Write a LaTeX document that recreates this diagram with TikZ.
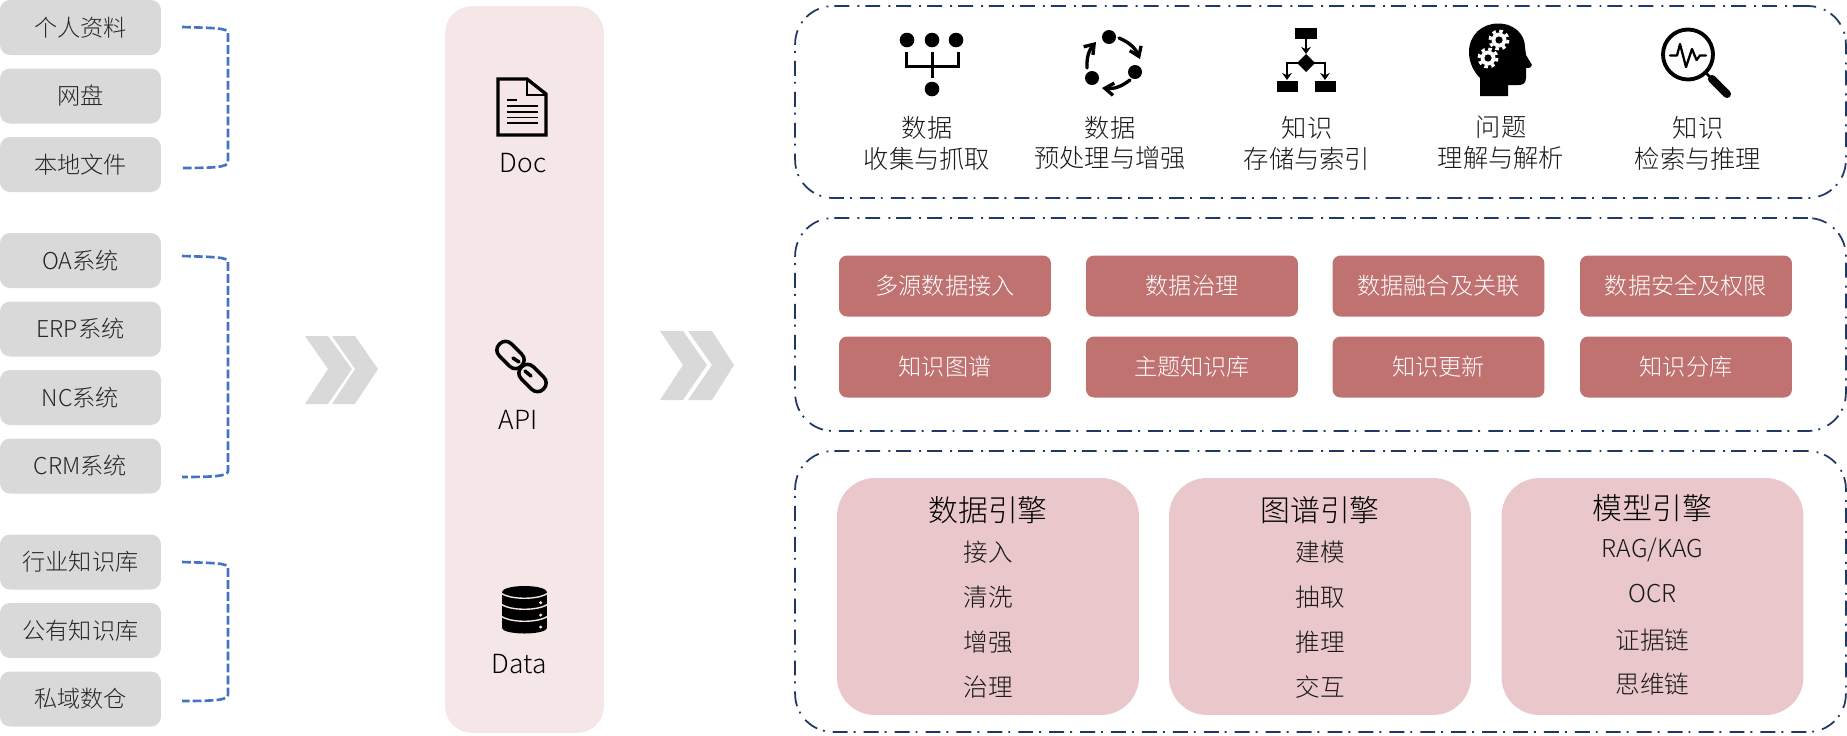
\documentclass[tikz,border=0pt]{standalone}
\usepackage{fontspec}
\usetikzlibrary{arrows.meta}
\setmainfont{Noto Sans CJK SC}[UprightFont=* Light]
\definecolor{listgray}{HTML}{D9D9D9}
\definecolor{bracketblue}{HTML}{4472C4}
\definecolor{panelnavy}{HTML}{1F3864}
\definecolor{middlepink}{HTML}{F5E7E8}
\definecolor{buttonred}{HTML}{C07271}
\definecolor{enginepink}{HTML}{E9C7CA}
\tikzset{
  listbox/.style={fill=listgray, rounded corners=.2cm, minimum width=3.22cm, minimum height=1.1cm, inner sep=0pt, text=black!85, font=\fontsize{13.2}{15}\selectfont},
  bracket/.style={bracketblue, line width=1.5pt, dash pattern=on 5pt off 1.8pt},
  panelbox/.style={draw=panelnavy, line width=1pt, rounded corners=.76cm, dash pattern=on 8.5pt off 3.4pt on 1.1pt off 4.6pt, minimum width=21.02cm, inner sep=0pt},
  buttonbox/.style={fill=buttonred, rounded corners=.16cm, minimum width=4.24cm, minimum height=1.22cm, inner sep=0pt, text=white, font=\fontsize{13.2}{15}\selectfont},
  enginebox/.style={fill=enginepink, rounded corners=.76cm, minimum width=6.04cm, minimum height=4.74cm, inner sep=0pt},
  enginetitle/.style={inner sep=0pt, text=black, font=\fontsize{17}{19}\selectfont},
  engineitem/.style={inner sep=0pt, text=black!90, font=\fontsize{14}{16}\selectfont},
  iconlabel/.style={inner sep=0pt, align=center, text=black!90, font=\fontsize{14.4}{17.6}\selectfont},
  sourcelabel/.style={inner sep=0pt, text=black, font=\fontsize{15}{17}\selectfont},
  chevron/.style={fill=listgray},
  gearteeth/.style={white, line width=1.7pt, dash pattern=on 2pt off 2.02pt},
}
\begin{document}
\begin{tikzpicture}[x=0.02cm, y=-0.02cm]
  \useasboundingbox (0,0) rectangle (1847,735);
  % Source lists
  \node[listbox] (ziliao) at (80.5,27.5) {个人资料};
  \node[listbox] (wangpan) at (80.5,96) {网盘};
  \node[listbox] (bendi) at (80.5,164.5) {本地文件};
  \node[listbox] (oa) at (80.5,260.5) {OA系统};
  \node[listbox] (erp) at (80.5,329) {ERP系统};
  \node[listbox] (nc) at (80.5,397.5) {NC系统};
  \node[listbox] (crm) at (80.5,466) {CRM系统};
  \node[listbox] (hangye) at (80.5,562) {行业知识库};
  \node[listbox] (gongyou) at (80.5,630.5) {公有知识库};
  \node[listbox] (siyu) at (80.5,699) {私域数仓};
  % Brackets
  \coordinate (topA) at (182,27);
  \coordinate (botA) at (182,168);
  \coordinate (topB) at (182,256);
  \coordinate (botB) at (182,477);
  \coordinate (topC) at (182,562);
  \coordinate (botC) at (182,701);
  \draw[bracket] (topA) .. controls (215,28) and (228,28) .. (228,33) -- (228,162) .. controls (228,167) and (215,168) .. (botA);
  \draw[bracket] (topB) .. controls (215,257) and (228,257) .. (228,262) -- (228,471) .. controls (228,476) and (215,477) .. (botB);
  \draw[bracket] (topC) .. controls (215,563) and (228,563) .. (228,568) -- (228,695) .. controls (228,700) and (215,701) .. (botC);
  % Chevrons
  \fill[chevron] (305,336) -- (328,336) -- (352,369) -- (328,404) -- (305,404) -- (328,369) -- cycle;
  \fill[chevron] (332,336) -- (355,336) -- (378,369) -- (355,404) -- (332,404) -- (355,369) -- cycle;
  \fill[chevron] (660,331) -- (683,331) -- (707,365) -- (683,400) -- (660,400) -- (683,365) -- cycle;
  \fill[chevron] (688,331) -- (712,331) -- (734,365) -- (712,400) -- (688,400) -- (712,365) -- cycle;
  % Middle column
  \node[fill=middlepink, rounded corners=.54cm, minimum width=3.18cm, minimum height=14.54cm, inner sep=0pt] (middle) at (524.5,369.5) {};
  \node[sourcelabel] (doc) at (523,163) {Doc};
  \node[sourcelabel] (api) at (518,420) {API};
  \node[sourcelabel] (data) at (519,664) {Data};
  % Doc icon
  \draw[line width=1.9pt, line join=miter] (498,79) -- (527,79) -- (546,94) -- (546,135) -- (498,135) -- cycle;
  \draw[line width=1.5pt] (527,79) -- (527,95) -- (546,95);
  \draw[line width=1.1pt] (507,100) -- (517,100);
  \draw[line width=1.1pt] (507,106) -- (538,106);
  \draw[line width=1.1pt] (507,112) -- (538,112);
  \draw[line width=1.1pt] (507,117.5) -- (538,117.5);
  \draw[line width=1.1pt] (507,123) -- (538,123);
  % Link icon
  \draw[line width=2pt, rounded corners=.16cm, rotate around={-45:(510.5,355)}] (495,346.5) rectangle (526,363.5);
  \draw[line width=2pt, rounded corners=.16cm, rotate around={-45:(532.5,378)}] (517,369.5) rectangle (548,386.5);
  \draw[line width=2pt, line cap=round] (513,358) -- (519,362);
  \draw[line width=2pt, line cap=round] (525,371) -- (531,376);
  % Database icon
  \fill (524.5,592) ellipse [x radius=22.5, y radius=6];
  \fill (502,592) rectangle (547,628);
  \fill (524.5,628) ellipse [x radius=22.5, y radius=5.5];
  \draw[middlepink, line width=.8pt] (501,593) .. controls (510,600) and (539,600) .. (548,593);
  \draw[middlepink, line width=.8pt] (501,604) .. controls (510,611) and (539,611) .. (548,604);
  \draw[middlepink, line width=.8pt] (501,616) .. controls (510,623) and (539,623) .. (548,616);
  \fill[middlepink] (540.7,602.7) circle [radius=1.7];
  \fill[middlepink] (540.7,615) circle [radius=1.7];
  \fill[middlepink] (540.7,627) circle [radius=1.7];
  % Right panels
  \node[panelbox, minimum height=3.84cm] (panelA) at (1320.5,102) {};
  \node[panelbox, minimum height=4.26cm] (panelB) at (1320.5,324.5) {};
  \node[panelbox, minimum height=5.62cm] (panelC) at (1320.5,591.5) {};
  % Capability labels
  \node[iconlabel] (shouji) at (927,143) {数据\\收集与抓取};
  \node[iconlabel] (yuchuli) at (1110,143) {数据\\预处理与增强};
  \node[iconlabel] (cunchu) at (1307,143) {知识\\存储与索引};
  \node[iconlabel] (lijie) at (1501,143) {问题\\理解与解析};
  \node[iconlabel] (jiansuo) at (1698,143) {知识\\检索与推理};
  % Collect icon
  \fill (907,40) circle [radius=7.3];
  \fill (932,40) circle [radius=7.3];
  \fill (956,40) circle [radius=7.3];
  \fill (932,89) circle [radius=7.3];
  \draw[line width=1.7pt] (906,52) -- (906,66) -- (958,66) -- (958,52);
  \draw[line width=1.7pt] (932,52) -- (932,78);
  % Cycle icon
  \fill (1109,37) circle [radius=7];
  \fill (1135,72) circle [radius=7];
  \fill (1092,78) circle [radius=7];
  \draw[line width=1.9pt, line cap=round, -{Straight Barb[length=5pt,width=7pt]}] (1119,38) to[bend left=22] (1140,59);
  \draw[line width=1.9pt, line cap=round, -{Straight Barb[length=5pt,width=7pt]}] (1130,80) to[bend left=22] (1102,88);
  \draw[line width=1.9pt, line cap=round, -{Straight Barb[length=5pt,width=7pt]}] (1087,68) to[bend left=22] (1096,42);
  % Flow icon
  \fill (1295,28) rectangle (1317,39);
  \fill (1277,81) rectangle (1298,92);
  \fill (1315,81) rectangle (1336,92);
  \fill (1306,54) -- (1315,63) -- (1306,72) -- (1297,63) -- cycle;
  \draw[line width=1.2pt, -{Stealth[length=4pt,width=5.5pt]}] (1306,39) -- (1306,54);
  \draw[line width=1.2pt, -{Stealth[length=4pt,width=5.5pt]}] (1300,63) -- (1287,63) -- (1287,80);
  \draw[line width=1.2pt, -{Stealth[length=4pt,width=5.5pt]}] (1312,63) -- (1325,63) -- (1325,80);
  % Head icon
  \fill (1480,96) -- (1480,78) .. controls (1474,72) and (1469,63) .. (1469,52) .. controls (1469,35) and (1482,23.5) .. (1498,23.5) .. controls (1515,23.5) and (1525,35) .. (1525,47) -- (1526,55) -- (1532,65) .. controls (1532,68) and (1529,68) .. (1526,68) -- (1526,78) .. controls (1526,84) and (1522,85) .. (1518,85) -- (1508,85) -- (1508,96) -- cycle;
  \fill[white] (1499,40) circle [radius=7.5];
  \draw[gearteeth] (1499,40) circle [radius=9];
  \fill (1499,40) circle [radius=3.6];
  \fill[white] (1488,58) circle [radius=7.5];
  \draw[gearteeth] (1488,58) circle [radius=9];
  \fill (1488,58) circle [radius=3.6];
  % Search icon
  \draw[line width=2.2pt] (1688,54.5) circle [radius=25];
  \draw[line width=1.6pt] (1706,73) -- (1714,81);
  \draw[line width=4.6pt, line cap=round] (1712,79) -- (1727,94);
  \draw[line width=1.3pt, line cap=round, line join=round] (1670,55.5) -- (1677,55.5) -- (1680,44) -- (1686,67) -- (1692,49) -- (1696.5,60) -- (1700,55.5) -- (1706,55.5);
  % Governance buttons
  \node[buttonbox] (jieru) at (945,286) {多源数据接入};
  \node[buttonbox] (zhili) at (1192,286) {数据治理};
  \node[buttonbox] (ronghe) at (1438.5,286) {数据融合及关联};
  \node[buttonbox] (anquan) at (1686,286) {数据安全及权限};
  \node[buttonbox] (tupu) at (945,367) {知识图谱};
  \node[buttonbox] (zhuti) at (1192,367) {主题知识库};
  \node[buttonbox] (gengxin) at (1438.5,367) {知识更新};
  \node[buttonbox] (fenku) at (1686,367) {知识分库};
  % Engines
  \node[enginebox] (engineA) at (988,596.5) {};
  \node[enginebox] (engineB) at (1320,596.5) {};
  \node[enginebox] (engineC) at (1652.5,596.5) {};
  \node[enginetitle] (titleA) at (988,510) {数据引擎};
  \node[engineitem] (itemAa) at (988,552) {接入};
  \node[engineitem] (itemAb) at (988,597) {清洗};
  \node[engineitem] (itemAc) at (988,642) {增强};
  \node[engineitem] (itemAd) at (988,687) {治理};
  \node[enginetitle] (titleB) at (1320,510) {图谱引擎};
  \node[engineitem] (itemBa) at (1320,552) {建模};
  \node[engineitem] (itemBb) at (1320,597) {抽取};
  \node[engineitem] (itemBc) at (1320,642) {推理};
  \node[engineitem] (itemBd) at (1320,687) {交互};
  \node[enginetitle] (titleC) at (1652.5,508) {模型引擎};
  \node[engineitem] (itemCa) at (1652.5,550) {RAG/KAG};
  \node[engineitem] (itemCb) at (1652.5,594) {OCR};
  \node[engineitem] (itemCc) at (1652.5,640) {证据链};
  \node[engineitem] (itemCd) at (1652.5,684) {思维链};
\end{tikzpicture}
\end{document}
